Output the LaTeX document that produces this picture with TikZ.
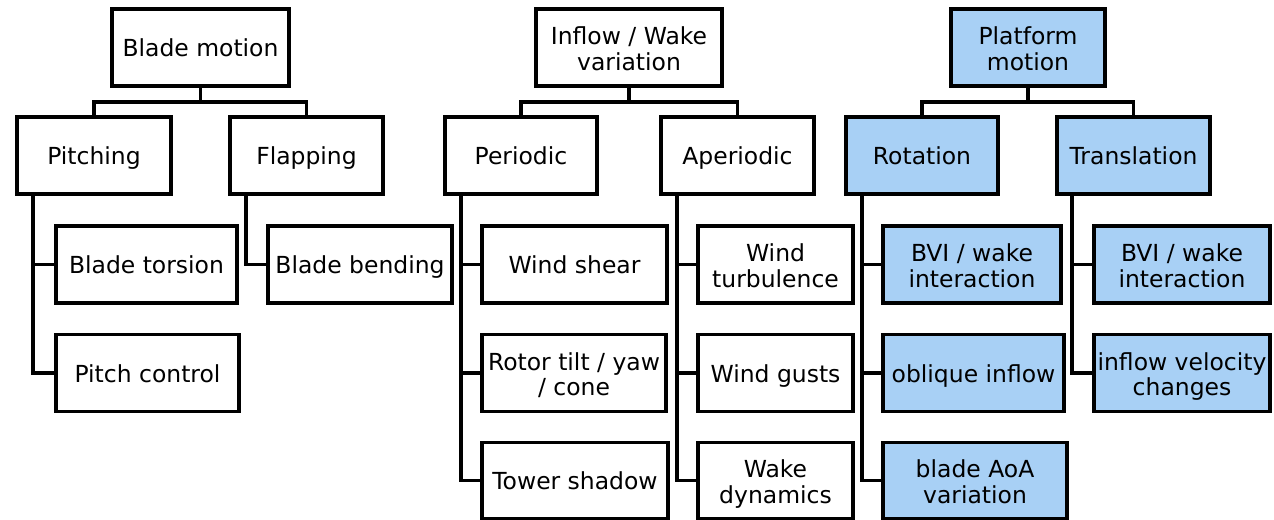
\documentclass[tikz,border=0pt]{standalone}
\usepackage{fontspec}
\setmainfont{DejaVu Sans}
\definecolor{pblue}{RGB}{168,208,245}
\tikzset{
  bx/.style={draw=black, line width=2.6pt, rectangle, inner sep=0pt, align=center,
    minimum height=77*0.75pt, text height=14pt, text depth=0pt,
    font=\fontsize{17.6}{19.4}\selectfont},
  two/.style={text height=34.4pt, text depth=0pt},
  blu/.style={bx, fill=pblue},
  conn/.style={draw=black, line width=2.6pt}
}
\begin{document}
\begin{tikzpicture}[x=0.75pt,y=-0.75pt]
\useasboundingbox (0,0) rectangle (1274,520);
% Blade motion tree
\node[bx, minimum width=177*0.75pt] (bm) at (200.5,47.5) {Blade motion};
\node[bx, minimum width=154*0.75pt] (pit) at (94,155.5) {Pitching};
\node[bx, minimum width=153*0.75pt] (fla) at (306.5,155.5) {Flapping};
\node[bx, minimum width=181*0.75pt] (bt) at (146.5,264.5) {Blade torsion};
\node[bx, minimum width=183*0.75pt] (pc) at (147.5,373) {Pitch control};
\node[bx, minimum width=184*0.75pt] (bb) at (360,264.5) {Blade bending};
% Inflow tree
\node[bx, two, minimum width=186*0.75pt] (inf) at (629,47.5) {Inflow / Wake\\variation};
\node[bx, minimum width=152*0.75pt] (per) at (521,155.5) {Periodic};
\node[bx, minimum width=153*0.75pt] (ape) at (737.5,155.5) {Aperiodic};
\node[bx, minimum width=185*0.75pt] (ws) at (574.5,264.5) {Wind shear};
\node[bx, two, minimum width=184*0.75pt] (rt) at (574,373) {Rotor tilt / yaw\\/ cone};
\node[bx, minimum width=186*0.75pt, minimum height=76*0.75pt] (ts) at (575,480.5) {Tower shadow};
\node[bx, two, minimum width=155*0.75pt] (wt) at (775.5,264.5) {Wind\\turbulence};
\node[bx, minimum width=155*0.75pt] (wg) at (775.5,373) {Wind gusts};
\node[bx, two, minimum width=155*0.75pt, minimum height=76*0.75pt] (wd) at (775.5,480.5) {Wake\\dynamics};
% Platform tree
\node[blu, two, minimum width=154*0.75pt] (pm) at (1028,47.5) {Platform\\motion};
\node[blu, minimum width=152*0.75pt] (rot) at (922,155.5) {Rotation};
\node[blu, minimum width=153*0.75pt] (tra) at (1133.5,155.5) {Translation};
\node[blu, two, minimum width=178*0.75pt] (bv1) at (972,264.5) {BVI / wake\\interaction};
\node[blu, minimum width=181*0.75pt] (obl) at (973.5,373) {oblique inflow};
\node[blu, two, minimum width=184*0.75pt, minimum height=76*0.75pt] (aoa) at (975,480.5) {blade AoA\\variation};
\node[blu, two, minimum width=176*0.75pt] (bv2) at (1182,264.5) {BVI / wake\\interaction};
\node[blu, two, minimum width=176*0.75pt] (ivc) at (1182,373) {inflow velocity\\changes};
% top-level connectors
\foreach \p/\a/\b in {bm/pit/fla, inf/per/ape, pm/rot/tra}{
  \draw[conn] (\p.south) -- (\p.south |- 0,102);
  \draw[conn] (\a.north) -- (\a.north |- 0,102) -- (\b.north |- 0,102) -- (\b.north);
}
% branch connectors
\draw[conn] (33,0 |- pit.south) -- (33,0 |- pc.west) -- (pc.west);
\draw[conn] (33,0 |- bt.west) -- (bt.west);
\draw[conn] (246,0 |- fla.south) -- (246,0 |- bb.west) -- (bb.west);
\draw[conn] (461,0 |- per.south) -- (461,0 |- ts.west) -- (ts.west);
\draw[conn] (461,0 |- ws.west) -- (ws.west);
\draw[conn] (461,0 |- rt.west) -- (rt.west);
\draw[conn] (677,0 |- ape.south) -- (677,0 |- wd.west) -- (wd.west);
\draw[conn] (677,0 |- wt.west) -- (wt.west);
\draw[conn] (677,0 |- wg.west) -- (wg.west);
\draw[conn] (862,0 |- rot.south) -- (862,0 |- aoa.west) -- (aoa.west);
\draw[conn] (862,0 |- bv1.west) -- (bv1.west);
\draw[conn] (862,0 |- obl.west) -- (obl.west);
\draw[conn] (1072,0 |- tra.south) -- (1072,0 |- ivc.west) -- (ivc.west);
\draw[conn] (1072,0 |- bv2.west) -- (bv2.west);
\end{tikzpicture}
\end{document}
